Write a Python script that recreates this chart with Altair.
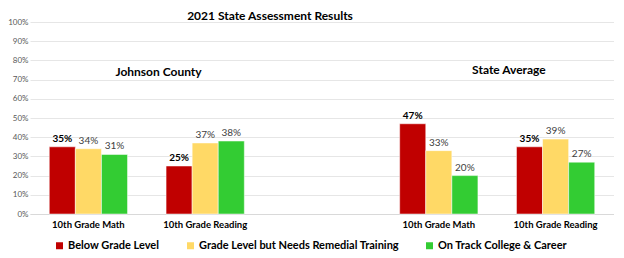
import altair as alt
import pandas as pd

slots = ["J-Math", "J-Read", "gap", "S-Math", "S-Read"]
series = ["Below Grade Level", "Grade Level but Needs Remedial Training", "On Track College & Career"]
colors = ["#C00000", "#FFD966", "#33CC33"]

below = [0.35, 0.25, 0.47, 0.35]
remedial = [0.34, 0.37, 0.33, 0.39]
ontrack = [0.31, 0.38, 0.20, 0.27]
bar_slots = ["J-Math", "J-Read", "S-Math", "S-Read"]

rows = []
for i, s in enumerate(bar_slots):
    for name, vals in zip(series, [below, remedial, ontrack]):
        rows.append({"slot": s, "series": name, "value": vals[i]})
df = pd.DataFrame(rows)

ann_text = ["Johnson County", "State Average"]
ann_slot = ["J-Math", "S-Math"]
ann_val = [0.74, 0.75]
ann = pd.DataFrame({"slot": ann_slot, "text": ann_text, "value": ann_val})

FONT = "Lato"

label_expr = ("datum.value == 'J-Math' || datum.value == 'S-Math' ? '10th Grade Math' : "
              "(datum.value == 'gap' ? '' : '10th Grade Reading')")

x_scale = alt.Scale(domain=slots, paddingInner=0.33, paddingOuter=0.165)
x_enc = alt.X("slot:N", scale=x_scale,
              axis=alt.Axis(title=None, labelExpr=label_expr, labelAngle=0, ticks=False,
                            domainColor="#D9D9D9", labelFont=FONT, labelFontSize=9.5,
                            labelFontWeight="bold", labelColor="#000000", labelPadding=5))
xo_enc = alt.XOffset("series:N", scale=alt.Scale(domain=series, paddingInner=0, paddingOuter=0))
y_enc = alt.Y("value:Q", scale=alt.Scale(domain=[0, 1]),
              axis=alt.Axis(title=None, format=".0%", values=[i / 10 for i in range(11)],
                            grid=True, gridColor="#E6E6E6", domain=False, ticks=False,
                            labelOverlap=False, labelFont=FONT, labelFontSize=8,
                            labelColor="#595959", labelPadding=2))

base = alt.Chart(df)

bars = base.mark_bar(stroke="white", strokeWidth=0.5).encode(
    x=x_enc, xOffset=xo_enc, y=y_enc,
    color=alt.Color("series:N", scale=alt.Scale(domain=series, range=colors),
                    legend=alt.Legend(title=None, orient="none", direction="horizontal",
                                      legendX=24, legendY=218, symbolType="square",
                                      symbolSize=49, symbolStrokeWidth=0, labelFont=FONT,
                                      labelFontSize=11, labelFontWeight="bold",
                                      labelColor="#000000", columnPadding=25, labelOffset=3,
                                      labelLimit=400)),
)

lab_bold = base.transform_filter(alt.datum.series == series[0]).mark_text(
    dy=-8, font=FONT, fontSize=10, fontWeight="bold", color="#000000").encode(
    x=x_enc, xOffset=xo_enc, y=y_enc,
    text=alt.Text("value:Q", format=".0%"))
lab_norm = base.transform_filter(alt.datum.series != series[0]).mark_text(
    dy=-8, font=FONT, fontSize=10, color="#404040").encode(
    x=x_enc, xOffset=xo_enc, y=y_enc,
    text=alt.Text("value:Q", format=".0%"))

annot = alt.Chart(ann).mark_text(font=FONT, fontSize=12, fontWeight="bold", color="#000000",
                                 dx=31).encode(
    x=alt.X("slot:N", bandPosition=1, scale=x_scale),
    y=y_enc, text="text:N")

chart = alt.layer(bars, lab_bold, lab_norm, annot).properties(
    width=584, height=192,
    autosize=alt.AutoSizeParams(type="none"),
    padding={"left": 22, "top": 14, "right": 0, "bottom": 40},
    title=alt.TitleParams("2021 State Assessment Results", font=FONT, fontSize=12,
                          fontWeight="bold", color="#000000", anchor="middle", dx=-52,
                          offset=-5),
).configure_view(stroke=None)

chart.save("out.html", embed_options={"renderer": "svg", "actions": False})
